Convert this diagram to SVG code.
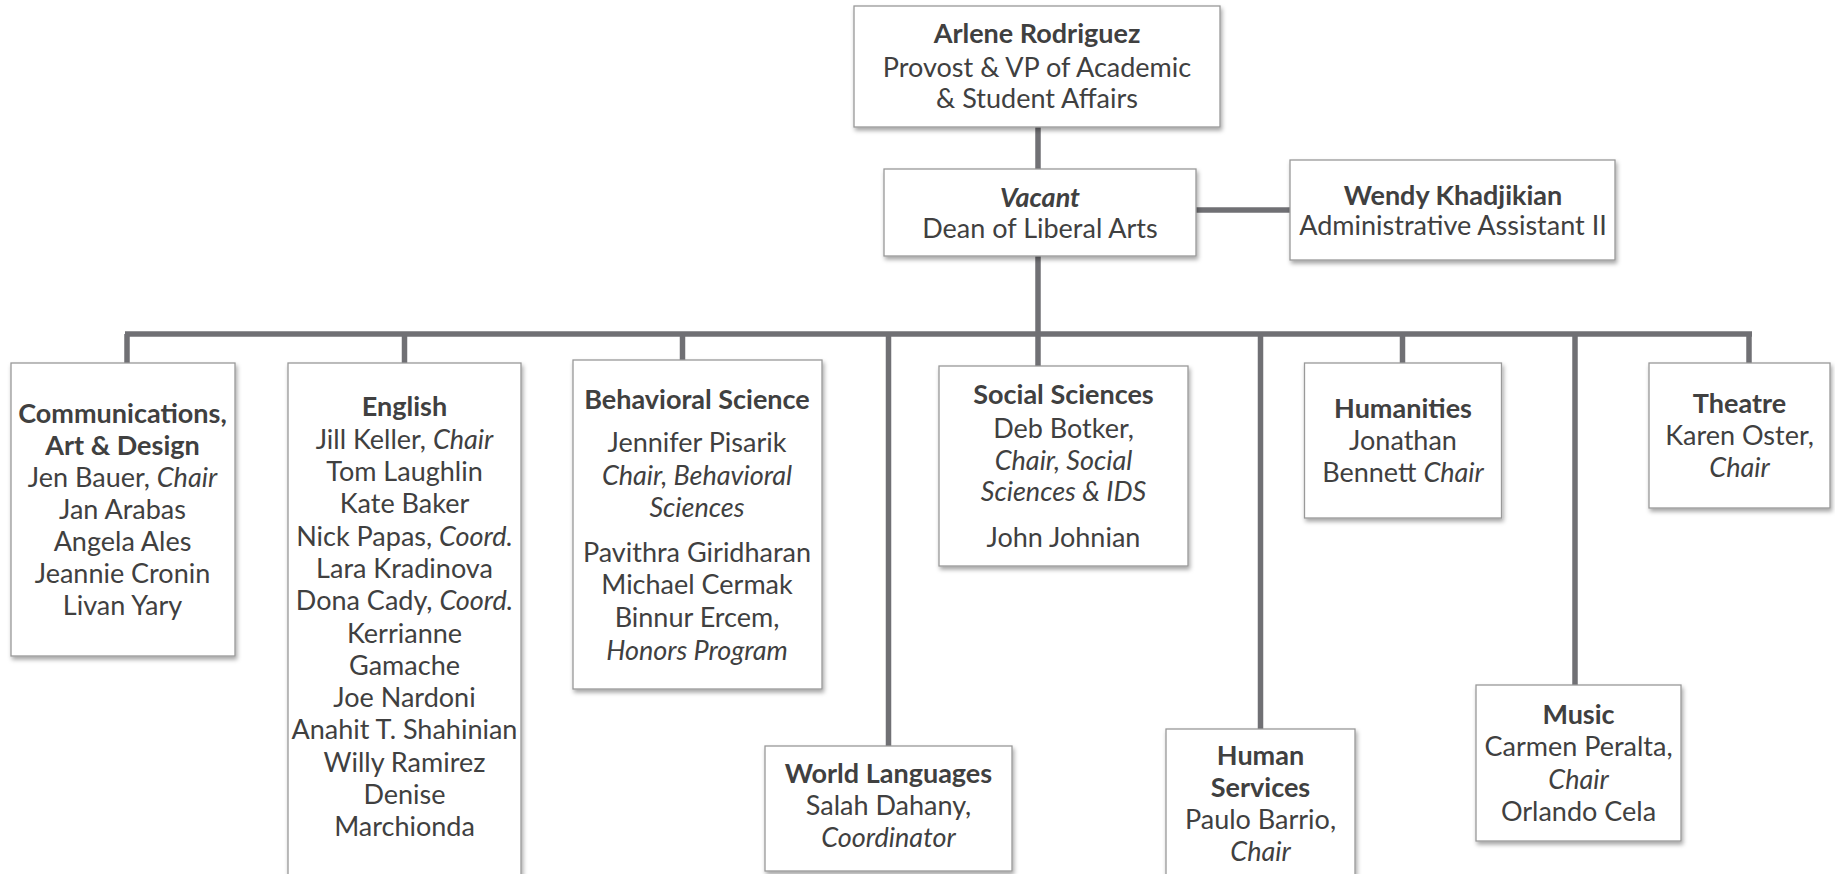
<svg xmlns="http://www.w3.org/2000/svg" width="1835" height="874" viewBox="0 0 1835 874">
<defs>
<filter id="sh" x="-10%" y="-10%" width="130%" height="130%">
<feDropShadow dx="1.5" dy="3" stdDeviation="2" flood-color="#000" flood-opacity="0.35"/>
</filter>
</defs>
<style>
.box{fill:#fff;stroke:#999;stroke-width:1.3;filter:url(#sh)}
.ln{stroke:#707074;stroke-width:5.5;fill:none}
text{font-family:Lato,"Open Sans","Liberation Sans",sans-serif;font-size:27px;fill:#404040;text-anchor:middle}
.b{font-weight:bold}
.i{font-style:italic}
</style>
<rect width="1835" height="874" fill="#fff"/>
<g id="connectors">
<line class="ln" x1="1038" y1="127" x2="1038" y2="170"/>
<line class="ln" x1="1196" y1="210" x2="1290" y2="210"/>
<line class="ln" x1="1038" y1="256" x2="1038" y2="366"/>
<line class="ln" x1="125" y1="334" x2="1752" y2="334"/>
<line class="ln" x1="127" y1="334" x2="127" y2="363"/>
<line class="ln" x1="404.5" y1="334" x2="404.5" y2="363"/>
<line class="ln" x1="682.5" y1="334" x2="682.5" y2="360"/>
<line class="ln" x1="888.5" y1="334" x2="888.5" y2="746"/>
<line class="ln" x1="1260.5" y1="334" x2="1260.5" y2="729"/>
<line class="ln" x1="1402.5" y1="334" x2="1402.5" y2="363"/>
<line class="ln" x1="1575" y1="334" x2="1575" y2="685"/>
<line class="ln" x1="1749" y1="334" x2="1749" y2="363"/>
</g>
<g id="provost">
<rect class="box" x="854" y="6" width="366" height="121"/>
<text x="1037" y="43" class="b">Arlene Rodriguez</text>
<text x="1037" y="77">Provost &amp; VP of Academic</text>
<text x="1037" y="108">&amp; Student Affairs</text>
</g>
<g id="dean">
<rect class="box" x="884" y="169" width="312" height="87"/>
<text x="1040" y="207" class="b i">Vacant</text>
<text x="1040" y="238">Dean of Liberal Arts</text>
</g>
<g id="assistant">
<rect class="box" x="1290" y="160" width="325" height="100"/>
<text x="1453" y="205" class="b">Wendy Khadjikian</text>
<text x="1453" y="235">Administrative Assistant II</text>
</g>
<g id="communications">
<rect class="box" x="11" y="363" width="224" height="293"/>
<text x="122.5" y="423" class="b">Communications,</text>
<text x="122.5" y="455" class="b">Art &amp; Design</text>
<text x="122.5" y="487">Jen Bauer, <tspan class="i">Chair</tspan></text>
<text x="122.5" y="519">Jan Arabas</text>
<text x="122.5" y="551">Angela Ales</text>
<text x="122.5" y="583">Jeannie Cronin</text>
<text x="122.5" y="615">Livan Yary</text>
</g>
<g id="english">
<rect class="box" x="288" y="363" width="233" height="520"/>
<text x="404.5" y="416" class="b">English</text>
<text x="404.5" y="449">Jill Keller, <tspan class="i">Chair</tspan></text>
<text x="404.5" y="481">Tom Laughlin</text>
<text x="404.5" y="513">Kate Baker</text>
<text x="404.5" y="546">Nick Papas, <tspan class="i">Coord.</tspan></text>
<text x="404.5" y="578">Lara Kradinova</text>
<text x="404.5" y="610">Dona Cady, <tspan class="i">Coord.</tspan></text>
<text x="404.5" y="643">Kerrianne</text>
<text x="404.5" y="675">Gamache</text>
<text x="404.5" y="707">Joe Nardoni</text>
<text x="404.5" y="739">Anahit T. Shahinian</text>
<text x="404.5" y="772">Willy Ramirez</text>
<text x="404.5" y="804">Denise</text>
<text x="404.5" y="836">Marchionda</text>
</g>
<g id="behavioral">
<rect class="box" x="573" y="360" width="249" height="329"/>
<text x="697" y="409" class="b">Behavioral Science</text>
<text x="697" y="452">Jennifer Pisarik</text>
<text x="697" y="485" class="i">Chair, Behavioral</text>
<text x="697" y="517" class="i">Sciences</text>
<text x="697" y="562">Pavithra Giridharan</text>
<text x="697" y="594">Michael Cermak</text>
<text x="697" y="627">Binnur Ercem,</text>
<text x="697" y="660" class="i">Honors Program</text>
</g>
<g id="world-languages">
<rect class="box" x="765" y="746" width="247" height="125"/>
<text x="888.5" y="783" class="b">World Languages</text>
<text x="888.5" y="815">Salah Dahany,</text>
<text x="888.5" y="847" class="i">Coordinator</text>
</g>
<g id="social-sciences">
<rect class="box" x="939" y="366" width="249" height="200"/>
<text x="1063.5" y="404" class="b">Social Sciences</text>
<text x="1063.5" y="438">Deb Botker,</text>
<text x="1063.5" y="470" class="i">Chair, Social</text>
<text x="1063.5" y="501" class="i">Sciences &amp; IDS</text>
<text x="1063.5" y="547">John Johnian</text>
</g>
<g id="human-services">
<rect class="box" x="1166" y="729" width="189" height="160"/>
<text x="1260.5" y="765" class="b">Human</text>
<text x="1260.5" y="797" class="b">Services</text>
<text x="1260.5" y="829">Paulo Barrio,</text>
<text x="1260.5" y="861" class="i">Chair</text>
</g>
<g id="humanities">
<rect class="box" x="1304.5" y="363" width="197" height="155"/>
<text x="1403" y="418" class="b">Humanities</text>
<text x="1403" y="450">Jonathan</text>
<text x="1403" y="482">Bennett <tspan class="i">Chair</tspan></text>
</g>
<g id="music">
<rect class="box" x="1476" y="685" width="205" height="156"/>
<text x="1578.5" y="724" class="b">Music</text>
<text x="1578.5" y="756">Carmen Peralta,</text>
<text x="1578.5" y="789" class="i">Chair</text>
<text x="1578.5" y="821">Orlando Cela</text>
</g>
<g id="theatre">
<rect class="box" x="1649" y="363" width="181" height="145"/>
<text x="1739.5" y="413" class="b">Theatre</text>
<text x="1739.5" y="445">Karen Oster,</text>
<text x="1739.5" y="477" class="i">Chair</text>
</g>
</svg>
